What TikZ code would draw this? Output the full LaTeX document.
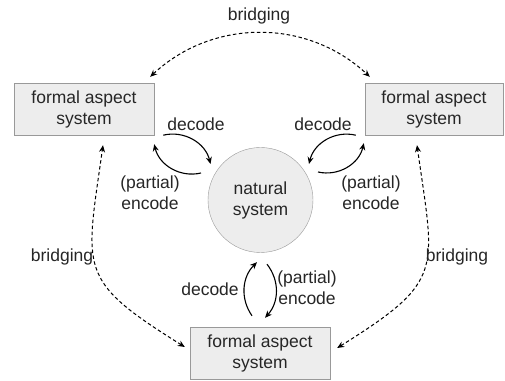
\documentclass[tikz,border=0pt]{standalone}
\usepackage{fontspec}
\setmainfont{Liberation Sans}
\usetikzlibrary{arrows.meta}

\begin{document}
\begin{tikzpicture}[
    x=1pt, y=1pt,
    font=\fontsize{17.5}{21}\selectfont, text=black!85,
    box/.style={rectangle, draw=black!40, fill=black!7, minimum height=52pt, align=center, inner sep=0pt},
    natsys/.style={circle, draw=black!40, fill=black!7, minimum size=105pt, align=center, inner sep=0pt},
    lbl/.style={inner sep=0pt, align=center},
    coding/.style={line width=1.1pt, -{Stealth[length=7pt,width=6pt]}},
    bridge/.style={line width=1pt, dash pattern=on 3.5pt off 2.5pt, {Stealth[length=7pt,width=6pt]}-{Stealth[length=7pt,width=6pt]}},
]
    \useasboundingbox (0,0) rectangle (505,380);
    \node[box, minimum width=140pt] (lbox) at (84,271) {formal aspect\\system};
    \node[box, minimum width=138pt] (rbox) at (434,271) {formal aspect\\system};
    \node[box, minimum width=140pt] (bbox) at (260,27) {formal aspect\\system};
    \node[natsys] (nat) at (260.5,180) {natural\\system};

    % decode / encode pairs
    \draw[coding] ([xshift=9pt]lbox.south east) to[bend left=45] ([xshift=-50pt,yshift=36pt]nat.center);
    \draw[coding] ([xshift=-59.5pt,yshift=27pt]nat.center) to[bend left=45] ([yshift=-9pt]lbox.south east);
    \draw[coding] ([xshift=-9pt]rbox.south west) to[bend right=45] ([xshift=48.5pt,yshift=36pt]nat.center);
    \draw[coding] ([xshift=57.5pt,yshift=28pt]nat.center) to[bend right=45] ([xshift=-1pt,yshift=-8pt]rbox.south west);
    \draw[coding] ([xshift=-8pt,yshift=11pt]bbox.north) to[bend left=40] ([xshift=-3.5pt,yshift=-9.5pt]nat.south);
    \draw[coding] ([xshift=6.5pt,yshift=-11.5pt]nat.south) to[bend left=40] ([xshift=5pt,yshift=9pt]bbox.north);

    \node[lbl] (dl) at (196,256) {decode};
    \node[lbl] (el) at (150,187.5) {(partial)\\encode};
    \node[lbl] (dr) at (323,256) {decode};
    \node[lbl] (er) at (371,187.5) {(partial)\\encode};
    \node[lbl] (db) at (210,91) {decode};
    \node[lbl] (eb) at (307,92) {(partial)\\encode};

    % bridging
    \draw[bridge] ([xshift=-4pt,yshift=6pt]lbox.north east) to[bend left=43] ([xshift=5pt,yshift=6pt]rbox.north west);
    \draw[bridge] ([xshift=-5pt,yshift=6pt]bbox.west) to[out=148,in=262,looseness=1.5] ([xshift=19pt,yshift=-10pt]lbox.south);
    \draw[bridge] ([xshift=7pt,yshift=5pt]bbox.east) to[out=32,in=278,looseness=1.5] ([xshift=-17pt,yshift=-10pt]rbox.south);
    \node[lbl] (bt) at (259,364) {bridging};
    \node[lbl] (bl) at (62,123) {bridging};
    \node[lbl] (br) at (457,123) {bridging};
\end{tikzpicture}
\end{document}
